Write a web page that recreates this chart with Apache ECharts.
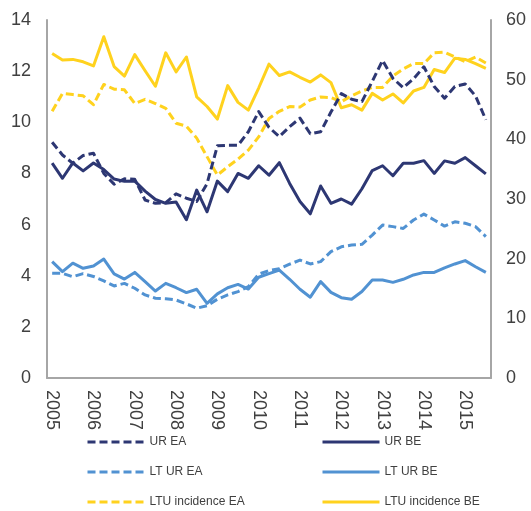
<!DOCTYPE html>
<html>
<head>
<meta charset="utf-8">
<script src="https://cdn.jsdelivr.net/npm/echarts@6/dist/echarts.min.js"></script>
<style>
  html, body { margin: 0; padding: 0; background: #ffffff; }
  #chart { width: 531px; height: 511px; }
</style>
</head>
<body>
<div id="chart"></div>
<script>
// Quarterly observations, 2005Q1 - 2015Q3
const quarters = [
  '2005Q1','2005Q2','2005Q3','2005Q4',
  '2006Q1','2006Q2','2006Q3','2006Q4',
  '2007Q1','2007Q2','2007Q3','2007Q4',
  '2008Q1','2008Q2','2008Q3','2008Q4',
  '2009Q1','2009Q2','2009Q3','2009Q4',
  '2010Q1','2010Q2','2010Q3','2010Q4',
  '2011Q1','2011Q2','2011Q3','2011Q4',
  '2012Q1','2012Q2','2012Q3','2012Q4',
  '2013Q1','2013Q2','2013Q3','2013Q4',
  '2014Q1','2014Q2','2014Q3','2014Q4',
  '2015Q1','2015Q2','2015Q3'
];

// Unemployment rates (%, left axis)
const urEA = [9.22, 8.72, 8.40, 8.70, 8.79, 8.00, 7.58, 7.79, 7.77, 6.96, 6.83, 6.86, 7.20, 7.03, 6.90, 7.60,
  9.08, 9.10, 9.10, 9.63, 10.42, 9.80, 9.44, 9.83, 10.16, 9.55, 9.63, 10.40, 11.12, 10.90, 10.81, 11.60,
  12.42, 11.72, 11.35, 11.70, 12.17, 11.40, 10.94, 11.40, 11.50, 11.03, 10.10];
const urBE = [8.40, 7.81, 8.41, 8.10, 8.41, 8.15, 7.78, 7.69, 7.70, 7.31, 6.98, 6.83, 6.88, 6.19, 7.35, 6.50,
  7.70, 7.29, 8.00, 7.81, 8.30, 7.93, 8.42, 7.61, 6.90, 6.42, 7.51, 6.83, 7.00, 6.80, 7.40, 8.11,
  8.30, 7.91, 8.40, 8.40, 8.50, 8.00, 8.49, 8.40, 8.62, 8.30, 7.98];
const ltEA = [4.10, 4.09, 3.96, 4.08, 3.97, 3.80, 3.60, 3.70, 3.51, 3.25, 3.12, 3.10, 3.05, 2.90, 2.73, 2.83,
  3.08, 3.25, 3.38, 3.57, 4.06, 4.20, 4.27, 4.45, 4.61, 4.46, 4.55, 4.94, 5.13, 5.20, 5.23, 5.59,
  5.98, 5.92, 5.85, 6.18, 6.41, 6.18, 5.94, 6.11, 6.05, 5.92, 5.53];
const ltBE = [4.55, 4.16, 4.49, 4.29, 4.38, 4.65, 4.07, 3.87, 4.13, 3.77, 3.40, 3.70, 3.53, 3.34, 3.47, 2.92,
  3.29, 3.53, 3.66, 3.48, 3.94, 4.08, 4.22, 3.86, 3.47, 3.16, 3.77, 3.35, 3.14, 3.08, 3.38, 3.83,
  3.83, 3.74, 3.86, 4.03, 4.13, 4.13, 4.31, 4.46, 4.59, 4.35, 4.13];

// Long-term unemployment incidence (% of unemployed, right axis)
const ltuEA = [44.7, 47.7, 47.5, 47.3, 45.8, 49.2, 48.4, 48.3, 46.0, 46.7, 46.0, 45.2, 42.7, 42.2, 40.2, 37.1,
  34.0, 35.4, 36.7, 38.2, 40.4, 43.5, 44.7, 45.5, 45.4, 46.6, 47.1, 47.0, 46.3, 47.3, 48.1, 48.7,
  48.7, 50.6, 51.8, 52.7, 52.7, 54.5, 54.6, 53.8, 53.0, 53.8, 52.8];
const ltuBE = [54.4, 53.3, 53.4, 53.0, 52.3, 57.2, 52.2, 50.6, 54.2, 51.5, 48.9, 54.5, 51.3, 53.8, 47.1, 45.5,
  43.4, 49.0, 46.2, 44.9, 48.6, 52.6, 50.7, 51.3, 50.4, 49.6, 50.8, 49.5, 45.3, 45.8, 44.9, 47.7,
  46.6, 47.6, 46.1, 48.1, 48.7, 51.7, 51.2, 53.6, 53.4, 52.7, 51.9];

const NAVY = '#2d3773';
const LIGHT = '#5192d2';
const GOLD = '#ffd21e';
const DASH = [8, 4];
const FONT = "'Liberation Sans', Arial, sans-serif";

function line(name, data, color, dashed, axis) {
  return {
    name: name,
    type: 'line',
    data: data,
    yAxisIndex: axis,
    symbol: 'none',
    smooth: false,
    lineStyle: { color: color, width: 3, type: dashed ? DASH : 'solid', cap: 'butt', join: 'round' },
    itemStyle: { color: color }
  };
}

// Two legend columns: euro area on the left, Belgium on the right
function legendColumn(left, names) {
  return {
    orient: 'vertical',
    left: left,
    top: 436,
    height: 80,
    padding: 0,
    itemWidth: 57,
    itemHeight: 12,
    itemGap: 18,
    itemStyle: { opacity: 0 },
    lineStyle: { width: 3 },
    textStyle: { fontFamily: FONT, fontSize: 12, color: '#404040', lineHeight: 12 },
    data: names
  };
}

const chart = echarts.init(document.getElementById('chart'), null, { renderer: 'canvas' });
chart.setOption({
  animation: false,
  backgroundColor: '#ffffff',
  grid: { left: 47, right: 40, top: 20, bottom: 133, containLabel: false },
  legend: [
    legendColumn(86, ['UR EA', 'LT UR EA', 'LTU incidence EA']),
    legendColumn(321, ['UR BE', 'LT UR BE', 'LTU incidence BE'])
  ],
  xAxis: {
    type: 'category',
    data: quarters,
    boundaryGap: true,
    axisLine: { show: true, lineStyle: { color: '#a6a6a6', width: 2 } },
    axisTick: { show: false },
    axisLabel: {
      interval: 3,
      rotate: -90,
      margin: 12,
      padding: [6, 0, 0, 0],
      fontFamily: FONT,
      fontSize: 18,
      color: '#404040',
      formatter: v => v.slice(0, 4)
    },
    splitLine: { show: false }
  },
  yAxis: [
    {
      type: 'value', min: 0, max: 14, interval: 2, position: 'left',
      axisLine: { show: true, lineStyle: { color: '#a6a6a6', width: 2 } },
      axisTick: { show: false },
      axisLabel: { margin: 16, fontFamily: FONT, fontSize: 18, color: '#404040' },
      splitLine: { show: false }
    },
    {
      type: 'value', min: 0, max: 60, interval: 10, position: 'right',
      axisLine: { show: true, lineStyle: { color: '#a6a6a6', width: 2 } },
      axisTick: { show: false },
      axisLabel: { margin: 15, fontFamily: FONT, fontSize: 18, color: '#404040' },
      splitLine: { show: false }
    }
  ],
  series: [
    line('LTU incidence EA', ltuEA, GOLD, true, 1),
    line('LTU incidence BE', ltuBE, GOLD, false, 1),
    line('LT UR EA', ltEA, LIGHT, true, 0),
    line('LT UR BE', ltBE, LIGHT, false, 0),
    line('UR EA', urEA, NAVY, true, 0),
    line('UR BE', urBE, NAVY, false, 0)
  ]
});
</script>
</body>
</html>
